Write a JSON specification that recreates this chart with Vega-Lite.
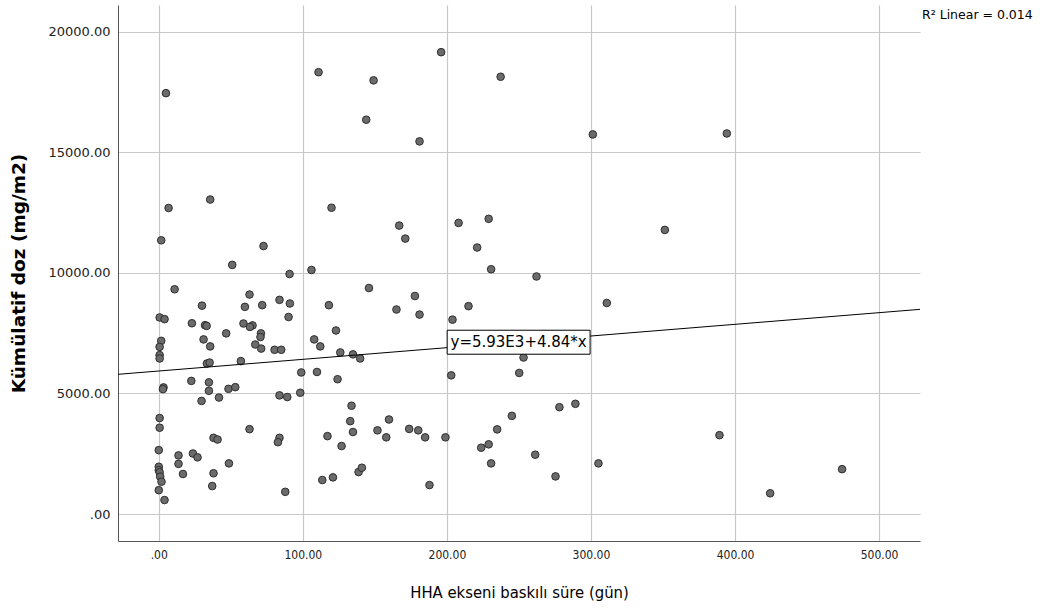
{
  "$schema": "https://vega.github.io/schema/vega-lite/v6.json",
  "width": 802,
  "height": 536,
  "autosize": "none",
  "padding": {"left": 118, "top": 5, "right": 128, "bottom": 67},
  "background": "white",
  "config": {"view": {"stroke": null}},
  "title": {
    "text": "R² Linear = 0.014",
    "anchor": "start",
    "frame": "group",
    "orient": "top",
    "dx": 804,
    "offset": -16,
    "font": "DejaVu Sans",
    "fontSize": 12.5,
    "fontWeight": "normal",
    "color": "#000000"
  },
  "datasets": {
    "pts": [
      {"sure": 5.0, "doz": 17450}, {"sure": 6.8, "doz": 12690}, {"sure": 1.7, "doz": 11350}, {"sure": 11.0, "doz": 9320},
      {"sure": 0.6, "doz": 8150}, {"sure": 4.0, "doz": 8080}, {"sure": 1.7, "doz": 7180}, {"sure": 0.6, "doz": 6930},
      {"sure": 0.6, "doz": 6590}, {"sure": 0.6, "doz": 6450}, {"sure": 3.3, "doz": 5250}, {"sure": 2.9, "doz": 5180},
      {"sure": 0.6, "doz": 3980}, {"sure": 0.6, "doz": 3580}, {"sure": 0.0, "doz": 2650}, {"sure": 0.0, "doz": 1960},
      {"sure": 0.0, "doz": 1820}, {"sure": 0.6, "doz": 1730}, {"sure": 1.0, "doz": 1550}, {"sure": 1.9, "doz": 1340},
      {"sure": 0.0, "doz": 990}, {"sure": 4.0, "doz": 580}, {"sure": 35.7, "doz": 13040}, {"sure": 72.7, "doz": 11110},
      {"sure": 51.0, "doz": 10330}, {"sure": 90.8, "doz": 9950}, {"sure": 106.0, "doz": 10120}, {"sure": 63.0, "doz": 9100},
      {"sure": 30.0, "doz": 8640}, {"sure": 59.8, "doz": 8590}, {"sure": 71.8, "doz": 8660}, {"sure": 83.8, "doz": 8880},
      {"sure": 91.0, "doz": 8730}, {"sure": 90.1, "doz": 8170}, {"sure": 23.0, "doz": 7910}, {"sure": 32.1, "doz": 7830},
      {"sure": 33.2, "doz": 7800}, {"sure": 58.8, "doz": 7900}, {"sure": 65.1, "doz": 7820}, {"sure": 63.3, "doz": 7760},
      {"sure": 46.8, "doz": 7490}, {"sure": 70.9, "doz": 7490}, {"sure": 70.6, "doz": 7340}, {"sure": 31.1, "doz": 7240},
      {"sure": 35.7, "doz": 6950}, {"sure": 67.0, "doz": 7030}, {"sure": 71.1, "doz": 6860}, {"sure": 80.4, "doz": 6810},
      {"sure": 85.0, "doz": 6810}, {"sure": 107.9, "doz": 7240}, {"sure": 33.4, "doz": 6240}, {"sure": 35.3, "doz": 6280},
      {"sure": 57.0, "doz": 6340}, {"sure": 98.9, "doz": 5870}, {"sure": 22.6, "doz": 5520}, {"sure": 34.8, "doz": 5460},
      {"sure": 34.8, "doz": 5110}, {"sure": 48.4, "doz": 5190}, {"sure": 53.1, "doz": 5260}, {"sure": 29.7, "doz": 4690},
      {"sure": 41.8, "doz": 4830}, {"sure": 83.8, "doz": 4920}, {"sure": 89.2, "doz": 4850}, {"sure": 98.2, "doz": 5030},
      {"sure": 63.0, "doz": 3520}, {"sure": 38.0, "doz": 3160}, {"sure": 40.8, "doz": 3090}, {"sure": 83.8, "doz": 3160},
      {"sure": 82.7, "doz": 2980}, {"sure": 13.7, "doz": 2430}, {"sure": 23.7, "doz": 2510}, {"sure": 26.9, "doz": 2350},
      {"sure": 13.7, "doz": 2080}, {"sure": 48.7, "doz": 2100}, {"sure": 16.8, "doz": 1660}, {"sure": 38.0, "doz": 1690},
      {"sure": 37.1, "doz": 1160}, {"sure": 87.8, "doz": 920}, {"sure": 110.9, "doz": 18320}, {"sure": 149.1, "doz": 17980},
      {"sure": 196.0, "doz": 19150}, {"sure": 144.0, "doz": 16350}, {"sure": 181.0, "doz": 15450}, {"sure": 237.3, "doz": 18130},
      {"sure": 119.9, "doz": 12700}, {"sure": 166.9, "doz": 11960}, {"sure": 171.1, "doz": 11420}, {"sure": 208.1, "doz": 12070},
      {"sure": 229.0, "doz": 12240}, {"sure": 221.0, "doz": 11050}, {"sure": 230.7, "doz": 10150}, {"sure": 145.9, "doz": 9370},
      {"sure": 118.1, "doz": 8660}, {"sure": 177.8, "doz": 9040}, {"sure": 165.0, "doz": 8480}, {"sure": 181.0, "doz": 8270},
      {"sure": 215.0, "doz": 8620}, {"sure": 203.9, "doz": 8060}, {"sure": 123.0, "doz": 7610}, {"sure": 112.1, "doz": 6950},
      {"sure": 126.0, "doz": 6700}, {"sure": 134.8, "doz": 6620}, {"sure": 139.8, "doz": 6450}, {"sure": 109.8, "doz": 5890},
      {"sure": 124.1, "doz": 5590}, {"sure": 203.0, "doz": 5750}, {"sure": 133.8, "doz": 4490}, {"sure": 132.9, "doz": 3850},
      {"sure": 134.8, "doz": 3400}, {"sure": 159.8, "doz": 3920}, {"sure": 117.1, "doz": 3230}, {"sure": 126.9, "doz": 2820},
      {"sure": 151.8, "doz": 3470}, {"sure": 157.9, "doz": 3180}, {"sure": 173.8, "doz": 3530}, {"sure": 180.1, "doz": 3470},
      {"sure": 184.9, "doz": 3180}, {"sure": 199.0, "doz": 3180}, {"sure": 234.9, "doz": 3510}, {"sure": 223.8, "doz": 2750},
      {"sure": 229.0, "doz": 2890}, {"sure": 230.7, "doz": 2100}, {"sure": 113.5, "doz": 1410}, {"sure": 120.9, "doz": 1520},
      {"sure": 138.7, "doz": 1740}, {"sure": 141.0, "doz": 1920}, {"sure": 187.9, "doz": 1200}, {"sure": 301.3, "doz": 15740},
      {"sure": 394.3, "doz": 15780}, {"sure": 351.3, "doz": 11780}, {"sure": 262.2, "doz": 9850}, {"sure": 311.0, "doz": 8750},
      {"sure": 253.2, "doz": 6490}, {"sure": 250.2, "doz": 5850}, {"sure": 278.1, "doz": 4430}, {"sure": 289.2, "doz": 4570},
      {"sure": 245.1, "doz": 4070}, {"sure": 261.3, "doz": 2460}, {"sure": 275.4, "doz": 1560}, {"sure": 305.2, "doz": 2100},
      {"sure": 389.2, "doz": 3270}, {"sure": 424.4, "doz": 860}, {"sure": 474.3, "doz": 1860}
    ],
    "fit": [
      {"sure": -28.3, "doz": 5793},
      {"sure": 528.4, "doz": 8487}
    ],
    "label": [
      {"x1": 200.2, "x2": 299.4, "y1": 6627, "y2": 7621, "xc": 249.8, "yc": 7124, "text": "y=5.93E3+4.84*x"}
    ]
  },
  "layer": [
    {
      "data": {"name": "pts"},
      "mark": {"type": "point", "filled": true, "size": 58, "fill": "#6b6b6b", "stroke": "#2e2e2e", "strokeWidth": 1, "opacity": 1},
      "encoding": {
        "x": {
          "field": "sure", "type": "quantitative",
          "scale": {"domain": [-28.3, 528.4], "nice": false, "zero": false},
          "axis": {
            "values": [0, 100, 200, 300, 400, 500],
            "labelExpr": "datum.value == 0 ? '.00' : format(datum.value, '.2f')",
            "title": "HHA ekseni baskılı süre (gün)",
            "titleFont": "DejaVu Sans Condensed, Liberation Sans, sans-serif",
            "titleFontSize": 16.5,
            "titleFontWeight": "normal",
            "titleColor": "#000000",
            "titlePadding": 24,
            "labelFont": "DejaVu Sans Condensed, Liberation Sans, sans-serif",
            "labelFontSize": 12,
            "labelColor": "#222222",
            "labelPadding": 8,
            "ticks": false,
            "domainColor": "#555555",
            "domainWidth": 1,
            "grid": true,
            "gridColor": "#c8c8c8",
            "gridWidth": 1.2
          }
        },
        "y": {
          "field": "doz", "type": "quantitative",
          "scale": {"domain": [-1118, 21106], "nice": false, "zero": false},
          "axis": {
            "values": [0, 5000, 10000, 15000, 20000],
            "labelExpr": "datum.value == 0 ? '.00' : format(datum.value, '.2f')",
            "title": "Kümülatif doz (mg/m2)",
            "titleFont": "DejaVu Sans",
            "titleFontSize": 18.5,
            "titleFontWeight": "bold",
            "titleColor": "#000000",
            "titlePadding": 19,
            "labelFont": "DejaVu Sans",
            "labelFontSize": 13,
            "labelColor": "#222222",
            "labelPadding": 8,
            "ticks": false,
            "domainColor": "#555555",
            "domainWidth": 1,
            "grid": true,
            "gridColor": "#c8c8c8",
            "gridWidth": 1.2
          }
        }
      }
    },
    {
      "data": {"name": "fit"},
      "mark": {"type": "line", "color": "#000000", "strokeWidth": 1},
      "encoding": {
        "x": {"field": "sure", "type": "quantitative"},
        "y": {"field": "doz", "type": "quantitative"}
      }
    },
    {
      "data": {"name": "label"},
      "mark": {"type": "rect", "fill": "#ffffff", "stroke": "#000000", "strokeWidth": 1},
      "encoding": {
        "x": {"field": "x1", "type": "quantitative"},
        "x2": {"field": "x2"},
        "y": {"field": "y1", "type": "quantitative"},
        "y2": {"field": "y2"}
      }
    },
    {
      "data": {"name": "label"},
      "mark": {"type": "text", "font": "DejaVu Sans", "fontSize": 15, "color": "#000000", "align": "center", "baseline": "middle"},
      "encoding": {
        "x": {"field": "xc", "type": "quantitative"},
        "y": {"field": "yc", "type": "quantitative"},
        "text": {"field": "text"}
      }
    }
  ]
}
